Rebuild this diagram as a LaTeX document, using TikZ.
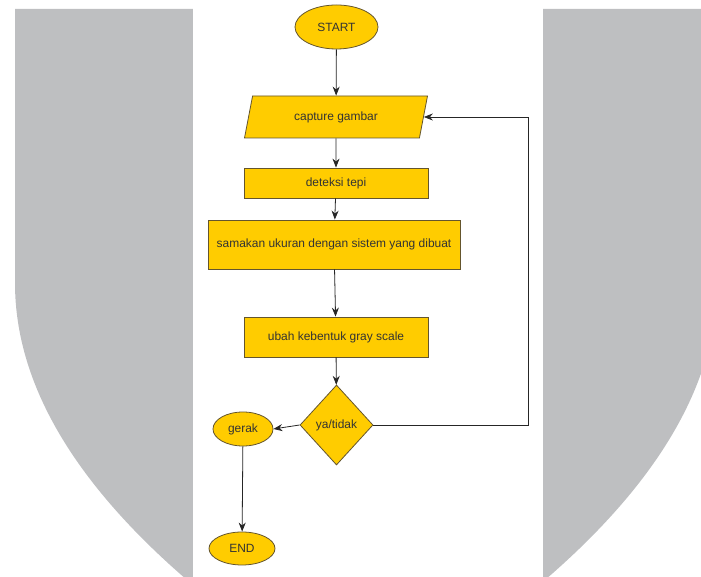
\documentclass[tikz,border=0pt]{standalone}
\usepackage{fontspec}
\setmainfont{Liberation Sans}
\usetikzlibrary{shapes.geometric,arrows.meta}
\definecolor{kuning}{RGB}{255,204,0}
\definecolor{garis}{RGB}{100,85,45}
\definecolor{latar}{RGB}{190,191,193}
\definecolor{teks}{RGB}{51,51,51}
\begin{document}
\begin{tikzpicture}[x=1bp,y=1bp,
	blok/.style={draw=garis,fill=kuning,line width=0.8bp,text=teks,font=\fontsize{12}{14}\selectfont,inner sep=0pt},
	terminal/.style={blok,ellipse},
	proses/.style={blok,rectangle},
	masukan/.style={blok,trapezium,trapezium left angle=70,trapezium right angle=110,trapezium stretches=true},
	keputusan/.style={blok,diamond},
	panah/.style={-{Stealth[length=9bp,width=7bp]},line width=0.8bp,black!85}]
	\useasboundingbox (0,0) rectangle (701,577);
	\begin{scope}
		\clip (0,0) rectangle (701,577);
		\fill[latar] (15,568) -- (15,294) .. controls (15,188.4) and (80.3,82.7) .. (211,-23) -- (521,-23) .. controls (651.7,82.7) and (717,188.4) .. (717,294) -- (717,568) -- cycle;
	\end{scope}
	\fill[white] (193,0) rectangle (543,577);
	\node[terminal,minimum width=83bp,minimum height=44bp] (start) at (336.5,550) {START};
	\node[masukan,minimum width=184bp,minimum height=42bp] (cap) at (336,460) {capture gambar};
	\node[proses,minimum width=184bp,minimum height=30bp] (tepi) at (336,394) {deteksi tepi};
	\node[proses,minimum width=252bp,minimum height=49bp] (sama) at (334,332.5) {samakan ukuran dengan sistem yang dibuat};
	\node[proses,minimum width=184bp,minimum height=40bp] (gray) at (336,240) {ubah kebentuk gray scale};
	\node[keputusan,minimum width=73bp,minimum height=80bp] (dec) at (336.5,152) {ya/tidak};
	\node[terminal,minimum width=60bp,minimum height=34bp] (gerak) at (243,148) {gerak};
	\node[terminal,minimum width=66bp,minimum height=33bp] (end) at (242,28.5) {END};
	\coordinate (balik) at (528,152);
	\draw[panah] (start) -- (cap);
	\draw[panah] (cap) -- (tepi);
	\draw[panah] (tepi) -- (sama);
	\draw[panah] (sama) -- (gray);
	\draw[panah] (gray) -- (dec);
	\draw[panah] (dec.west) -- (gerak.east);
	\draw[panah] (gerak) -- (end);
	\draw[panah,line width=0.7bp] (dec.east) -- (balik) |- (cap.east);
\end{tikzpicture}
\end{document}
